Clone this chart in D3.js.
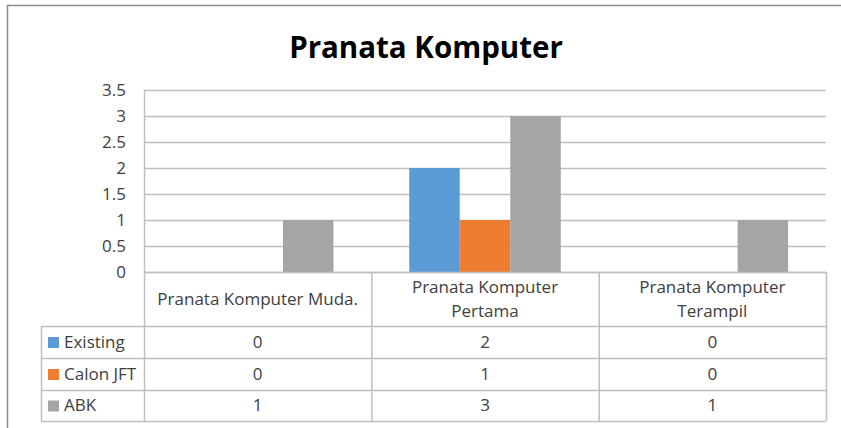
<!DOCTYPE html>
<html>
<head>
<meta charset="utf-8">
<script src="https://cdn.jsdelivr.net/npm/d3@7"></script>
<style>
  body { margin: 0; background: #fff; }
  text { font-family: "Open Sans", sans-serif; }
</style>
</head>
<body>
<div id="chart"></div>
<script>
// Data
const categories = [["Pranata Komputer Muda."], ["Pranata Komputer", "Pertama"], ["Pranata Komputer", "Terampil"]];
const seriesNames = ["Existing", "Calon JFT", "ABK"];
const existing = [0, 2, 0];
const calonJFT = [0, 1, 0];
const abk = [1, 3, 1];
const yTicks = [0, 0.5, 1, 1.5, 2, 2.5, 3, 3.5];
const colors = ["#5b9bd5", "#ed7d31", "#a5a5a5"];

const series = [existing, calonJFT, abk];

const width = 841;
const height = 428;
const lineColor = "#bfbfbf";
const textColor = "#404040";
const fontSize = "17px";

const svg = d3.select("#chart")
    .append("svg")
    .attr("width", width)
    .attr("height", height);

// Outer chart border (only left and top visible)
svg.append("path")
    .attr("d", `M7.5,${height} V5.5 H${width}`)
    .attr("fill", "none")
    .attr("stroke", "#8c8c8c")
    .attr("stroke-width", 1.5);

// Title
svg.append("text")
    .attr("x", 426)
    .attr("y", 58)
    .attr("text-anchor", "middle")
    .style("font-size", "29.5px")
    .style("font-weight", "bold")
    .attr("fill", "#000")
    .text("Pranata Komputer");

// Scales
const x = d3.scaleBand()
    .domain(d3.range(categories.length))
    .range([144, 826]);

const x1 = d3.scaleBand()
    .domain(d3.range(seriesNames.length))
    .range([0, x.bandwidth()])
    .paddingInner(0)
    .paddingOuter(0.75);

const y = d3.scaleLinear()
    .domain([0, 3.5])
    .range([272, 90]);

// Gridlines
svg.append("g")
    .selectAll("line")
    .data(yTicks)
    .join("line")
    .attr("x1", 144)
    .attr("x2", 826)
    .attr("y1", d => Math.round(y(d)) + 0.5)
    .attr("y2", d => Math.round(y(d)) + 0.5)
    .attr("stroke", lineColor)
    .attr("stroke-width", 1.5);

// Y axis labels
const yAxis = d3.axisLeft(y).tickValues(yTicks).tickSize(0).tickPadding(0)
    .tickFormat(d3.format("~g"));
svg.append("g")
    .attr("transform", "translate(126,0)")
    .call(yAxis)
    .call(g => g.select(".domain").remove())
    .selectAll("text")
    .style("font-size", fontSize)
    .style("font-family", "'Open Sans', sans-serif")
    .attr("fill", textColor);

// Vertical axis line
svg.append("line")
    .attr("x1", 144.5).attr("x2", 144.5)
    .attr("y1", 90).attr("y2", 272)
    .attr("stroke", lineColor)
    .attr("stroke-width", 1.5);

// Bars
series.forEach((vals, si) => {
    svg.append("g")
        .selectAll("rect")
        .data(vals)
        .join("rect")
        .attr("x", (d, i) => x(i) + x1(si))
        .attr("y", d => y(d))
        .attr("width", x1.bandwidth())
        .attr("height", d => y(0) - y(d))
        .attr("fill", colors[si]);
});

// Data table
const rowTops = [272, 326, 358, 390, 421];
const legendLeft = 41;
const table = svg.append("g");

// horizontal lines
rowTops.forEach((ry, i) => {
    table.append("line")
        .attr("x1", i === 0 ? 144 : legendLeft)
        .attr("x2", 826)
        .attr("y1", ry + 0.5).attr("y2", ry + 0.5)
        .attr("stroke", lineColor)
        .attr("stroke-width", 1.5);
});
// vertical lines
const colEdges = [144, x(1), x(2), 826];
colEdges.forEach(cx => {
    table.append("line")
        .attr("x1", cx + 0.5).attr("x2", cx + 0.5)
        .attr("y1", rowTops[0]).attr("y2", rowTops[4])
        .attr("stroke", lineColor)
        .attr("stroke-width", 1.5);
});
table.append("line")
    .attr("x1", legendLeft + 0.5).attr("x2", legendLeft + 0.5)
    .attr("y1", rowTops[1]).attr("y2", rowTops[4])
    .attr("stroke", lineColor)
    .attr("stroke-width", 1.5);

// category headers
categories.forEach((lines, i) => {
    const cx = x(i) + x.bandwidth() / 2;
    const cy = (rowTops[0] + rowTops[1]) / 2;
    const lh = 24;
    lines.forEach((ln, j) => {
        table.append("text")
            .attr("x", cx)
            .attr("y", cy + (j - (lines.length - 1) / 2) * lh)
            .attr("dy", "0.35em")
            .attr("text-anchor", "middle")
            .style("font-size", fontSize)
            .attr("fill", textColor)
            .text(ln);
    });
});

// series rows
series.forEach((vals, si) => {
    const cy = (rowTops[si + 1] + rowTops[si + 2]) / 2;
    table.append("rect")
        .attr("x", 48)
        .attr("y", cy - 5)
        .attr("width", 11)
        .attr("height", 11)
        .attr("fill", colors[si]);
    table.append("text")
        .attr("x", 64)
        .attr("y", cy)
        .attr("dy", "0.35em")
        .style("font-size", fontSize)
        .attr("fill", textColor)
        .text(seriesNames[si]);
    vals.forEach((v, i) => {
        table.append("text")
            .attr("x", x(i) + x.bandwidth() / 2)
            .attr("y", cy)
            .attr("dy", "0.35em")
            .attr("text-anchor", "middle")
            .style("font-size", fontSize)
            .attr("fill", textColor)
            .text(v);
    });
});
</script>
</body>
</html>
